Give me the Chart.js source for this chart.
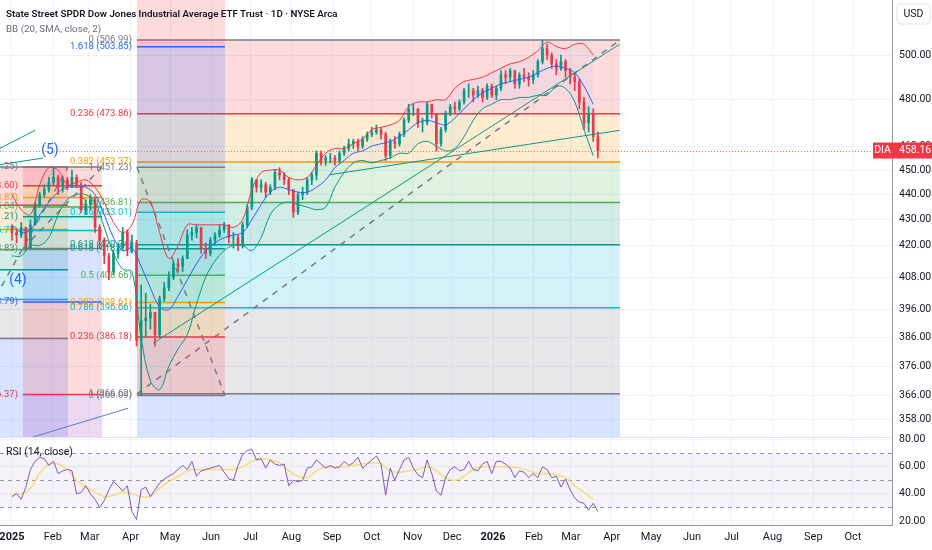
<!DOCTYPE html>
<html>
<head>
<meta charset="utf-8">
<title>DIA 1D</title>
<script src="https://cdn.jsdelivr.net/npm/chart.js@4.4.1/dist/chart.umd.min.js"></script>
<style>
  html, body { margin: 0; padding: 0; background: #ffffff; }
  #wrap { position: relative; width: 932px; height: 550px; }
  #title { position: absolute; left: 6px; top: 8px; font: 600 9.8px Roboto, 'Liberation Sans', sans-serif; color: #131722; white-space: nowrap; }
  #bb { position: absolute; left: 6px; top: 23px; font: 9.8px Roboto, 'Liberation Sans', sans-serif; color: #6a6d78; white-space: nowrap; }
</style>
</head>
<body>
<div id="wrap">
  <canvas id="my-chart"></canvas>
  <div id="title">State Street SPDR Dow Jones Industrial Average ETF Trust · 1D · NYSE Arca</div>
  <div id="bb">BB (20, SMA, close, 2)</div>
</div>
<script>
'use strict';

// candles: one sample every 3.5 days from 1 Jan 2025 (day 0)
let candleStep = 3.5;
let firstOpen = 427;
let closes = [
  425, 424, 427, 419, 428, 436, 440, 442, 445, 447, 443, 446, 443, 447, 444, 434,
  436, 438, 427, 422, 416, 410, 417, 419, 425, 418, 421, 385, 392, 393, 395, 387,
  400, 404, 408, 413, 412, 415, 424, 425, 427, 419, 417, 422, 424, 426, 428, 423,
  423, 420, 428, 435, 446, 443, 444, 441, 443, 449, 448, 446, 442, 433, 440, 441,
  446, 448, 457, 454, 455, 455, 454, 457, 459, 461, 462, 460, 463, 465, 466, 467,
  465, 456, 462, 461, 465, 471, 476, 476, 470, 470, 478, 474, 461, 467, 474, 477,
  476, 479, 484, 484, 482, 484, 481, 486, 482, 485, 491, 490, 493, 487, 491, 490,
  489, 491, 497, 503, 500, 496, 494, 497, 493, 490, 488, 479, 470, 474, 464, 458.16
];
let highs = [
  428, 426, 429, 427, 430, 437, 441, 444, 447, 451, 448, 447, 447, 450, 448, 445,
  438, 440, 439, 428, 423, 417, 418, 421, 427, 426, 424, 422, 405, 402, 398, 395,
  401, 406, 410, 414, 415, 416, 426, 427, 428, 427, 421, 423, 425, 428, 429, 428,
  425, 424, 429, 436, 447, 446, 446, 445, 444, 450, 451, 449, 447, 442, 441, 443,
  447, 449, 458, 458, 456, 457, 456, 458, 460, 463, 463, 463, 464, 466, 468, 469,
  468, 466, 463, 464, 466, 472, 478, 478, 476, 472, 479, 478, 474, 468, 475, 478,
  479, 480, 485, 487, 485, 486, 485, 487, 487, 486, 493, 493, 494, 493, 492, 494,
  492, 493, 498, 507, 505, 501, 498, 500, 498, 494, 492, 489, 481, 477, 476, 466
];
let lows = [
  422, 421, 423, 418, 419, 428, 435, 439, 441, 444, 440, 441, 442, 443, 443, 433,
  432, 434, 425, 419, 413, 407, 409, 415, 418, 416, 417, 383, 366, 386, 389, 383,
  386, 399, 403, 407, 410, 410, 415, 422, 423, 417, 415, 416, 420, 423, 425, 421,
  419, 418, 419, 427, 434, 441, 441, 439, 440, 442, 446, 444, 440, 431, 432, 438,
  440, 444, 446, 452, 452, 453, 452, 453, 456, 458, 459, 458, 459, 462, 464, 465,
  463, 454, 455, 459, 460, 464, 470, 473, 468, 466, 469, 472, 458, 460, 466, 473,
  474, 475, 478, 481, 479, 481, 479, 480, 481, 480, 484, 487, 488, 485, 485, 488,
  486, 487, 490, 496, 498, 494, 491, 493, 490, 487, 484, 476, 467, 466, 462, 455
];

// Bollinger bands, one reading per week
let bbStep = 7;
let bbUpper = [
  440, 434, 432, 444, 451, 450, 444, 445, 446, 443, 437, 429, 425, 428, 438, 437,
  425, 415, 420, 428, 428, 428, 428, 428, 427, 430, 442, 449, 450, 450, 447, 446,
  447, 452, 457, 459, 459, 461, 463, 467, 468, 469, 471, 477, 479, 479, 480, 480,
  485, 488, 489, 490, 492, 494, 496, 497, 499, 502, 506, 504, 503, 505, 505, 500
];
let bbBasis = [
  428, 425, 426, 432, 437, 441, 443, 443, 443, 440, 432, 423, 418, 419, 412, 404,
  397, 396, 401, 407, 413, 418, 421, 423, 424, 425, 430, 436, 441, 443, 442, 441,
  441, 443, 446, 451, 454, 457, 458, 460, 461, 462, 464, 467, 470, 471, 470, 469,
  472, 476, 480, 483, 485, 487, 488, 489, 490, 492, 494, 495, 494, 492, 486, 478
];
let bbLower = [
  416, 416, 420, 420, 423, 432, 438, 440, 440, 437, 427, 417, 411, 410, 386, 371,
  368, 376, 382, 387, 398, 408, 414, 418, 420, 420, 418, 423, 432, 436, 437, 436,
  435, 434, 435, 443, 449, 453, 454, 453, 454, 455, 457, 457, 461, 462, 460, 458,
  459, 464, 471, 476, 478, 480, 480, 481, 481, 482, 482, 486, 485, 479, 467, 456
];

// RSI(14) per candle sample, and its moving average per week
let rsiValues = [
  38, 40, 36, 45, 58, 64, 67, 66, 61, 64, 55, 57, 58, 57, 40, 41,
  46, 40, 36, 30, 35, 43, 49, 46, 42, 46, 27, 21, 43, 45, 38, 43,
  48, 51, 53, 55, 58, 61, 58, 64, 53, 57, 58, 59, 60, 61, 56, 51,
  50, 61, 69, 72, 73, 65, 66, 59, 65, 62, 61, 62, 46, 50, 49, 50,
  59, 60, 65, 62, 59, 61, 59, 60, 64, 61, 63, 67, 59, 62, 65, 68,
  62, 39, 59, 50, 58, 65, 67, 59, 54, 52, 65, 55, 42, 39, 52, 58,
  60, 57, 58, 64, 58, 57, 62, 64, 55, 64, 64, 62, 59, 52, 57, 56,
  52, 55, 52, 60, 58, 52, 53, 45, 51, 43, 37, 34, 33, 28, 33, 27
];
let rsiAverage = [
  40, 40, 44, 55, 62, 62, 58, 50, 45, 41, 38, 39, 41, 40, 38, 38,
  44, 49, 53, 57, 58, 58, 58, 58, 58, 60, 64, 66, 65, 63, 57, 53,
  52, 57, 60, 60, 60, 61, 62, 63, 62, 57, 56, 57, 58, 60, 57, 52,
  50, 53, 58, 60, 60, 60, 60, 59, 57, 55, 55, 54, 52, 46, 41, 36
];
let rsiBands = [70, 50, 30];

// axes
let priceTicks = [358, 366, 376, 386, 396, 408, 420, 430, 440, 450, 460, 480, 500];
let rsiTicks = [20, 40, 60, 80];
let monthDays = [0, 31, 59, 90, 120, 151, 181, 212, 243, 273, 304, 334, 365, 396, 424, 455, 485, 516, 546, 577, 608, 638];
let monthLabels = ['2025', 'Feb', 'Mar', 'Apr', 'May', 'Jun', 'Jul', 'Aug', 'Sep', 'Oct', 'Nov', 'Dec',
  '2026', 'Feb', 'Mar', 'Apr', 'May', 'Jun', 'Jul', 'Aug', 'Sep', 'Oct'];
let lastPrice = 458.16;

// fibonacci retracements: start/end day, price at level 0 and at level 1
let fibRatios = [0, 0.236, 0.382, 0.5, 0.618, 0.786, 1, 1.618, 2.618, 3.618, 4.236];
let fibColors = ['#787b86', '#f23645', '#ff9800', '#4caf50', '#089981', '#00bcd4', '#787b86', '#2962ff', '#f23645', '#9c27b0', '#e91e63'];
let fibStartDay = [-30, 8.3, 94.8, 94.8];
let fibEndDay = [42.5, 68.3, 461.3, 161.6];
let fibZero = [451.25, 451.25, 506.99, 366.09];
let fibOne = [385.7, 418.83, 366.62, 451.23];

// hand drawn trend lines
let trendStartDay = [107, -9.1, -9.1, 16, 241];
let trendEndDay = [461, 17.5, 23.6, 88, 461];
let trendStartPrice = [384, 459.1, 452.3, 352.4, 448.1];
let trendEndPrice = [505, 466.7, 455.0, 361.8, 466.7];
let trendColors = ['#089981', '#089981', '#089981', '#5b7fb8', '#089981'];

// elliott wave labels
let waveText = ['(5)', '(4)'];
let waveDay = [28.8, 4.5];
let wavePrice = [458, 406.8];

let upColor = '#089981';
let downColor = '#f23645';
let fontFamily = 'Roboto, "Liberation Sans", sans-serif';
let labelFont = '9.5px ' + fontFamily;

function candleDay(i) {
  return i * candleStep;
}

function buildCandles() {
  let wicks = [];
  let bodies = [];
  let colors = [];
  for (let i = 0; i < closes.length; i++) {
    let open = i === 0 ? firstOpen : closes[i - 1];
    wicks.push({ x: candleDay(i), y: [lows[i], highs[i]] });
    bodies.push({ x: candleDay(i), y: [open, closes[i]] });
    colors.push(closes[i] >= open ? upColor : downColor);
  }
  return { wicks: wicks, bodies: bodies, colors: colors };
}

function weekly(values) {
  return values.map((v, i) => ({ x: i * bbStep, y: v }));
}

// stop Chart.js from reserving room for half tick labels
function noPadding(s) {
  s.paddingTop = 0;
  s.paddingBottom = 0;
  s.paddingLeft = 0;
  s.paddingRight = 0;
}

let paneDrawings = {
  id: 'paneDrawings',
  beforeDatasetsDraw(chart) {
    let ctx = chart.ctx;
    let area = chart.chartArea;
    let xs = chart.scales.x;
    let ys = chart.scales.y;
    let rs = chart.scales.yRsi;
    let w = area.right - area.left;

    // RSI pane background and band lines
    ctx.save();
    ctx.beginPath();
    ctx.rect(area.left, rs.top, w, rs.bottom - rs.top);
    ctx.clip();
    let yTop = rs.getPixelForValue(rsiBands[0]);
    let yBot = rs.getPixelForValue(rsiBands[2]);
    ctx.fillStyle = 'rgba(126,87,194,0.08)';
    ctx.fillRect(area.left, yTop, w, yBot - yTop);
    ctx.strokeStyle = '#9598a1';
    ctx.lineWidth = 1;
    ctx.setLineDash([4, 4]);
    rsiBands.forEach(v => {
      let y = Math.round(rs.getPixelForValue(v)) + 0.5;
      ctx.beginPath();
      ctx.moveTo(area.left, y);
      ctx.lineTo(area.right, y);
      ctx.stroke();
    });
    ctx.setLineDash([]);
    ctx.fillStyle = '#131722';
    ctx.font = '10.5px ' + fontFamily;
    ctx.textBaseline = 'middle';
    ctx.fillText('RSI (14, close)', area.left + 6, rs.top + 15);
    ctx.restore();

    // main pane: fib drawings
    ctx.save();
    ctx.beginPath();
    ctx.rect(area.left, ys.top, w, ys.bottom - ys.top);
    ctx.clip();
    for (let f = 0; f < fibZero.length; f++) {
      let x0 = xs.getPixelForValue(fibStartDay[f]);
      let x1 = xs.getPixelForValue(fibEndDay[f]);
      let range = fibOne[f] - fibZero[f];
      let levelY = fibRatios.map(r => ys.getPixelForValue(fibZero[f] + range * r));
      for (let k = 1; k < fibRatios.length; k++) {
        ctx.fillStyle = fibColors[k];
        ctx.globalAlpha = 0.18;
        ctx.fillRect(x0, Math.min(levelY[k - 1], levelY[k]), x1 - x0, Math.abs(levelY[k] - levelY[k - 1]));
      }
      ctx.globalAlpha = 1;
      ctx.lineWidth = 1.5;
      for (let k = 0; k < fibRatios.length; k++) {
        ctx.strokeStyle = fibColors[k];
        ctx.beginPath();
        ctx.moveTo(x0, levelY[k]);
        ctx.lineTo(x1, levelY[k]);
        ctx.stroke();
      }
      ctx.strokeStyle = '#787b86';
      ctx.setLineDash([6, 6]);
      ctx.beginPath();
      ctx.moveTo(x0, levelY[6]);
      ctx.lineTo(x1, levelY[0]);
      ctx.stroke();
      ctx.setLineDash([]);
      ctx.font = labelFont;
      ctx.textAlign = 'right';
      ctx.textBaseline = 'middle';
      for (let k = 0; k < fibRatios.length; k++) {
        let price = fibZero[f] + range * fibRatios[k];
        ctx.fillStyle = fibColors[k];
        ctx.fillText(String(fibRatios[k]) + ' (' + price.toFixed(2) + ')', x0 - 5, levelY[k]);
      }
    }
    ctx.restore();
  },
  afterDatasetsDraw(chart) {
    let ctx = chart.ctx;
    let area = chart.chartArea;
    let xs = chart.scales.x;
    let ys = chart.scales.y;

    ctx.save();
    ctx.beginPath();
    ctx.rect(area.left, ys.top, area.right - area.left, ys.bottom - ys.top);
    ctx.clip();
    // last price line
    let py = Math.round(ys.getPixelForValue(lastPrice)) + 0.5;
    ctx.strokeStyle = 'rgba(242,54,69,0.7)';
    ctx.lineWidth = 1;
    ctx.setLineDash([1, 2]);
    ctx.beginPath();
    ctx.moveTo(area.left, py);
    ctx.lineTo(area.right, py);
    ctx.stroke();
    ctx.setLineDash([]);
    // wave labels
    ctx.font = '14px ' + fontFamily;
    ctx.fillStyle = '#2962ff';
    ctx.textAlign = 'center';
    ctx.textBaseline = 'middle';
    waveText.forEach((t, i) => {
      ctx.fillText(t, xs.getPixelForValue(waveDay[i]), ys.getPixelForValue(wavePrice[i]));
    });
    ctx.restore();

    // pane separator
    ctx.strokeStyle = '#e0e3eb';
    ctx.beginPath();
    ctx.moveTo(area.left, Math.round(ys.bottom) + 0.5);
    ctx.lineTo(area.right, Math.round(ys.bottom) + 0.5);
    ctx.stroke();
  },
  afterDraw(chart) {
    let ctx = chart.ctx;
    let area = chart.chartArea;
    let ys = chart.scales.y;
    let py = ys.getPixelForValue(lastPrice);
    ctx.save();
    ctx.font = '10.5px ' + fontFamily;
    ctx.textBaseline = 'middle';
    ctx.fillStyle = '#f23645';
    ctx.fillRect(area.right - 19, py - 8, 19, 16);
    ctx.fillRect(area.right, py - 8, chart.width - area.right, 16);
    ctx.fillStyle = '#ffffff';
    ctx.textAlign = 'center';
    ctx.fillText('DIA', area.right - 9.5, py);
    ctx.textAlign = 'left';
    ctx.fillText(lastPrice.toFixed(2), area.right + 7, py);
    // currency box
    ctx.strokeStyle = '#e0e3eb';
    ctx.fillStyle = '#ffffff';
    ctx.beginPath();
    ctx.roundRect(area.right + 5, 4, 33, 20, 3);
    ctx.fill();
    ctx.stroke();
    ctx.fillStyle = '#131722';
    ctx.textAlign = 'center';
    ctx.fillText('USD', area.right + 21.5, 14);
    ctx.restore();
  }
};

function renderChart() {
  let candles = buildCandles();
  let canvasElement = document.getElementById('my-chart');

  let trendSets = trendStartDay.map((d, i) => ({
    type: 'line',
    data: [{ x: d, y: trendStartPrice[i] }, { x: trendEndDay[i], y: trendEndPrice[i] }],
    borderColor: trendColors[i],
    borderWidth: 1,
    pointRadius: 0,
    yAxisID: 'y',
    order: 1
  }));

  let chartObj = {
    type: 'bar',
    data: {
      datasets: [
        {
          type: 'line', data: weekly(bbUpper), borderColor: '#f23645', borderWidth: 1,
          pointRadius: 0, tension: 0.35, yAxisID: 'y', order: 2
        },
        {
          type: 'line', data: weekly(bbBasis), borderColor: '#2962ff', borderWidth: 1,
          pointRadius: 0, tension: 0.35, yAxisID: 'y', order: 2
        },
        {
          type: 'line', data: weekly(bbLower), borderColor: '#089981', borderWidth: 1,
          pointRadius: 0, tension: 0.35, yAxisID: 'y', order: 2,
          fill: '-2', backgroundColor: 'rgba(33,150,243,0.05)'
        },
        {
          type: 'bar', data: candles.bodies, backgroundColor: candles.colors,
          barThickness: 2, grouped: false, yAxisID: 'y', order: 3
        },
        {
          type: 'bar', data: candles.wicks, backgroundColor: candles.colors,
          barThickness: 1, grouped: false, yAxisID: 'y', order: 4
        },
        {
          type: 'line', data: weekly(rsiAverage), borderColor: 'rgba(240,222,90,0.85)', borderWidth: 1.5,
          pointRadius: 0, tension: 0.35, yAxisID: 'yRsi', order: 2
        },
        {
          type: 'line', data: rsiValues.map((v, i) => ({ x: candleDay(i), y: v })),
          borderColor: '#7e57c2', borderWidth: 1, pointRadius: 0, yAxisID: 'yRsi', order: 1
        }
      ].concat(trendSets)
    },
    options: {
      responsive: true,
      maintainAspectRatio: false,
      animation: false,
      events: [],
      layout: { padding: 0 },
      plugins: { legend: { display: false }, tooltip: { enabled: false } },
      scales: {
        x: {
          type: 'linear',
          min: -9.1,
          max: 667.7,
          offset: false,
          afterBuildTicks: s => { s.ticks = monthDays.map(v => ({ value: v })); },
          afterFit: s => { s.height = 25; noPadding(s); },
          ticks: {
            autoSkip: false,
            maxRotation: 0,
            padding: 6,
            color: '#131722',
            callback: (v, i) => monthLabels[i],
            font: c => ({ size: 11, family: fontFamily,
              weight: /^\d{4}$/.test(monthLabels[c.index] || '') ? 'bold' : 'normal' })
          },
          grid: { color: '#f0f3fa', drawTicks: false, offset: false },
          border: { color: '#9598a1' }
        },
        y: {
          type: 'logarithmic',
          position: 'right',
          stack: 'panes',
          stackWeight: 437,
          min: 352.4,
          max: 525.9,
          afterBuildTicks: s => { s.ticks = priceTicks.map(v => ({ value: v })); },
          afterFit: s => { s.width = 40; noPadding(s); },
          ticks: {
            autoSkip: false,
            padding: 7,
            color: '#131722',
            font: { size: 10.5, family: fontFamily },
            callback: v => Number(v).toFixed(2)
          },
          grid: { color: '#f0f3fa', drawTicks: false },
          border: { color: '#9598a1' }
        },
        yRsi: {
          type: 'linear',
          position: 'right',
          stack: 'panes',
          stackWeight: 88,
          min: 17,
          max: 82,
          afterBuildTicks: s => { s.ticks = rsiTicks.map(v => ({ value: v })); },
          afterFit: s => { s.width = 40; noPadding(s); },
          ticks: {
            autoSkip: false,
            padding: 7,
            color: '#131722',
            font: { size: 10.5, family: fontFamily },
            callback: v => Number(v).toFixed(2)
          },
          grid: { color: '#f0f3fa', drawTicks: false },
          border: { color: '#9598a1' }
        }
      }
    },
    plugins: [paneDrawings]
  };
  new Chart(canvasElement, chartObj); //eslint-disable-line
}

renderChart();
</script>
</body>
</html>
